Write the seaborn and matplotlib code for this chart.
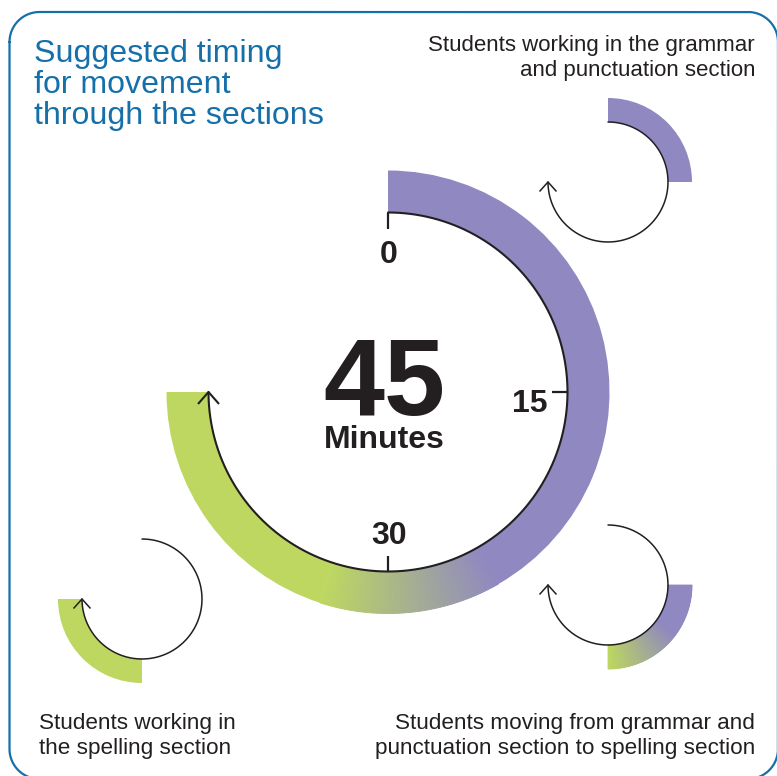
import numpy as np
import matplotlib
matplotlib.use("Agg")
import matplotlib.pyplot as plt
import seaborn as sns
from matplotlib.patches import Wedge
from matplotlib.colors import to_rgb

# --- data ---
total_minutes = 45
tick_minutes = [0, 15, 30]
phase_labels = ["Students working in the grammar\nand punctuation section",
                "Students moving from grammar and\npunctuation section to spelling section",
                "Students working in\nthe spelling section"]
phase_start = [0, 15, 30]
phase_end = [15, 30, 45]
main_blend = [25, 33]      # minutes where purple fades into green on the big dial
moving_blend = [21, 30]    # same for the "moving" icon

PURPLE = "#8f88c1"
GREEN = "#bdd760"
INK = "#231f20"
BLUE = "#1570aa"

sns.set_theme(style="white")
plt.rcParams["font.family"] = ["Liberation Sans", "DejaVu Sans"]


def pos(cx, cy, r, m):
    # clock position (0 at top, clockwise); y axis is inverted
    a = np.deg2rad(np.asarray(m) * 6.0)
    return cx + r * np.sin(a), cy - r * np.cos(a)


def band_color(m, blend):
    if m <= blend[0]:
        return to_rgb(PURPLE)
    if m >= blend[1]:
        return to_rgb(GREEN)
    t = (m - blend[0]) / (blend[1] - blend[0])
    p, g = np.array(to_rgb(PURPLE)), np.array(to_rgb(GREEN))
    return tuple(p + (g - p) * t)


def draw_band(ax, cx, cy, r_in, r_out, m0, m1, blend=None, solid=None, step=0.1):
    if solid is not None:
        ax.add_patch(Wedge((cx, cy), r_out, 6 * m0 - 90, 6 * m1 - 90,
                           width=r_out - r_in, facecolor=solid, edgecolor="none"))
        return
    edges = np.arange(m0, m1 + 1e-9, step)
    for a, b in zip(edges[:-1], edges[1:]):
        c = band_color((a + b) / 2, blend)
        ax.add_patch(Wedge((cx, cy), r_out, 6 * a - 90, 6 * b - 90,
                           width=r_out - r_in, facecolor=c, edgecolor=c, lw=0.6))


def draw_loop(ax, cx, cy, r, m0, m1, lw, hw, hh):
    mm = np.linspace(m0, m1, 300)
    xs, ys = pos(cx, cy, r, mm)
    sns.lineplot(x=xs, y=ys, sort=False, estimator=None, color=INK, lw=lw, ax=ax)
    tx, ty = pos(cx, cy, r, m1)
    # arrow head pointing along clockwise tangent (up, at 45 min)
    ax.plot([tx - hw, tx, tx + hw], [ty + hh, ty, ty + hh],
            color=INK, lw=lw, solid_capstyle="butt")


fig = plt.figure(figsize=(7.77, 7.76), dpi=100)
ax = fig.add_axes([0, 0, 1, 1])
ax.set_xlim(0, 777)
ax.set_ylim(776, 0)
ax.set_aspect("equal")
ax.axis("off")

# rounded frame (mostly running off the right and bottom edges)
x0, y0, x1, y1, rr = 9.5, 12, 778, 779, 30
fx, fy = [], []
for (ccx, ccy, a0) in [(x0 + rr, y0 + rr, 180), (x1 - rr, y0 + rr, 270),
                       (x1 - rr, y1 - rr, 0), (x0 + rr, y1 - rr, 90)]:
    t = np.deg2rad(np.linspace(a0, a0 + 90, 40))
    fx.extend(ccx + rr * np.cos(t))
    fy.extend(ccy + rr * np.sin(t))
fx.append(fx[0]); fy.append(fy[0])
ax.plot(fx, fy, color=BLUE, lw=1.6, clip_on=False)

# big dial
cx, cy, r_in, r_out = 388, 392, 179.5, 221.5
draw_band(ax, cx, cy, r_in, r_out, 0, main_blend[0], solid=PURPLE)
draw_band(ax, cx, cy, r_in, r_out, main_blend[0], main_blend[1], blend=main_blend, step=0.1)
draw_band(ax, cx, cy, r_in, r_out, main_blend[1], total_minutes, solid=GREEN)
draw_loop(ax, cx, cy, r_in, 0, total_minutes, 1.5, 10.5, 12)
for m in tick_minutes:
    tx0, ty0 = pos(cx, cy, r_in, m)
    tx1, ty1 = pos(cx, cy, r_in - 16, m)
    ax.plot([tx0, tx1], [ty0, ty1], color=INK, lw=1.6, solid_capstyle="butt")
    lx, ly = pos(cx, cy, r_in - 39, m)
    ax.text(lx + 1, ly + 8 * abs(np.sin(np.deg2rad(6 * m))), str(m), ha="center",
            va="center_baseline", fontsize=23, fontweight="bold", color=INK)
ax.text(384, 375, str(total_minutes), ha="center", va="center_baseline", fontsize=79,
        fontweight="bold", color=INK)
ax.text(384, 436, "Minutes", ha="center", va="center_baseline", fontsize=23,
        fontweight="bold", color=INK)

# small icons, one per phase
icons = [(608, 182), (608, 585), (142, 599)]
for (icx, icy), s, e, i in zip(icons, phase_start, phase_end, range(3)):
    if i == 0:
        draw_band(ax, icx, icy, 60, 84, s, e, solid=PURPLE)
    elif i == 1:
        draw_band(ax, icx, icy, 60, 84, s, e, blend=moving_blend, step=0.1)
    else:
        draw_band(ax, icx, icy, 60, 84, s, e, solid=GREEN)
    draw_loop(ax, icx, icy, 60, 0, total_minutes, 1.1, 8.5, 9.5)

# texts
ax.text(34, 85, "Suggested timing\nfor movement\nthrough the sections", ha="left",
        va="center", fontsize=23.1, color=BLUE, linespacing=1.05)
ax.text(755, 58, phase_labels[0], ha="right", va="center", fontsize=16,
        color=INK, linespacing=1.2)
ax.text(755, 736, phase_labels[1], ha="right", va="center", fontsize=16.2,
        color=INK, linespacing=1.25)
ax.text(39, 736, phase_labels[2], ha="left", va="center", fontsize=16.2,
        color=INK, linespacing=1.25)

fig.savefig("out.png", dpi=100)
